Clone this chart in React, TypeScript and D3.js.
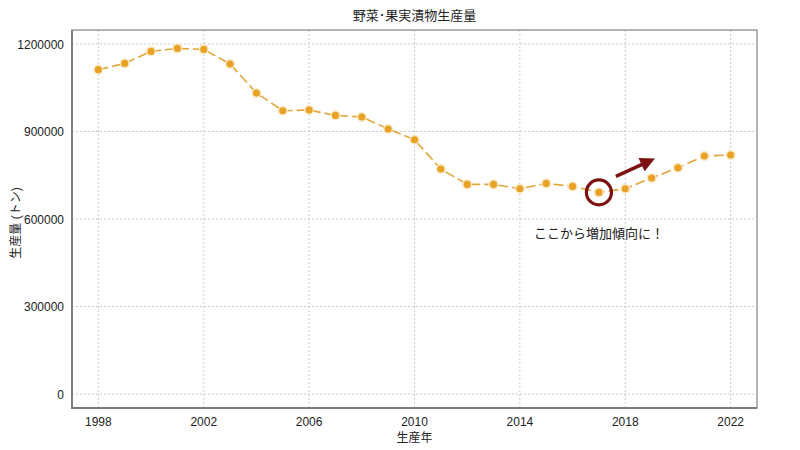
import * as d3 from "d3";
import { useEffect, useRef } from "react";

const years = [
  1998, 1999, 2000, 2001, 2002, 2003, 2004, 2005, 2006, 2007, 2008, 2009, 2010,
  2011, 2012, 2013, 2014, 2015, 2016, 2017, 2018, 2019, 2020, 2021, 2022,
];
const production = [
  1112000, 1133500, 1174600, 1184900, 1181500, 1131400, 1032000, 971300, 973700,
  955200, 949700, 908600, 871900, 771400, 718600, 718600, 703900, 722100, 711800,
  691200, 703900, 740600, 775900, 816000, 819400,
];
const xTicks = [1998, 2002, 2006, 2010, 2014, 2018, 2022];
const yTicks = [0, 300000, 600000, 900000, 1200000];

const title = "野菜･果実漬物生産量";
const xLabel = "生産年";
const yLabel = "生産量 (トン)";
const note = "ここから増加傾向に！";
const highlightYear = 2017;

const FONT = "'Liberation Sans', 'Noto Sans CJK JP', sans-serif";

const App = () => {
  const svgRef = useRef<SVGSVGElement | null>(null);

  useEffect(() => {
    if (!svgRef.current) return;
    const width = 800;
    const height = 450;
    const margin = { top: 30, right: 43, bottom: 42, left: 72 };

    const x = d3
      .scaleLinear()
      .domain([1997, 2023])
      .range([margin.left, width - margin.right]);
    const y = d3
      .scaleLinear()
      .domain([-48000, 1248000])
      .range([height - margin.bottom, margin.top]);

    const svg = d3.select(svgRef.current);
    svg.selectAll("*").remove();

    // grid
    const grid = svg.append("g");
    grid
      .selectAll("line.v")
      .data(xTicks)
      .join("line")
      .attr("x1", (d) => x(d))
      .attr("x2", (d) => x(d))
      .attr("y1", margin.top)
      .attr("y2", height - margin.bottom)
      .attr("stroke", "#bdbdbd")
      .attr("stroke-width", 0.8)
      .attr("stroke-dasharray", "2,2");
    grid
      .selectAll("line.h")
      .data(yTicks)
      .join("line")
      .attr("x1", margin.left)
      .attr("x2", width - margin.right)
      .attr("y1", (d) => y(d))
      .attr("y2", (d) => y(d))
      .attr("stroke", "#bdbdbd")
      .attr("stroke-width", 0.8)
      .attr("stroke-dasharray", "2,2");

    // frame
    svg
      .append("rect")
      .attr("x", margin.left)
      .attr("y", margin.top)
      .attr("width", width - margin.left - margin.right)
      .attr("height", height - margin.top - margin.bottom)
      .attr("fill", "none")
      .attr("stroke", "#9a9a9a")
      .attr("stroke-width", 1.5);
    svg
      .append("path")
      .attr(
        "d",
        `M${margin.left},${margin.top}V${height - margin.bottom}H${width - margin.right}`
      )
      .attr("fill", "none")
      .attr("stroke", "#7a7a7a")
      .attr("stroke-width", 1.8);

    // ticks
    svg
      .append("g")
      .selectAll("text")
      .data(xTicks)
      .join("text")
      .attr("x", (d) => x(d))
      .attr("y", height - margin.bottom + 18)
      .attr("text-anchor", "middle")
      .attr("font-size", 12)
      .attr("font-family", FONT)
      .attr("fill", "#222")
      .text((d) => d);
    svg
      .append("g")
      .selectAll("text")
      .data(yTicks)
      .join("text")
      .attr("x", margin.left - 8)
      .attr("y", (d) => y(d) + 4.5)
      .attr("text-anchor", "end")
      .attr("font-size", 12)
      .attr("font-family", FONT)
      .attr("fill", "#222")
      .text((d) => d);

    // titles
    svg
      .append("text")
      .attr("x", (margin.left + width - margin.right) / 2)
      .attr("y", 20)
      .attr("text-anchor", "middle")
      .attr("font-size", 13)
      .attr("font-family", FONT)
      .attr("fill", "#222")
      .text(title);
    svg
      .append("text")
      .attr("x", (margin.left + width - margin.right) / 2)
      .attr("y", height - 8)
      .attr("text-anchor", "middle")
      .attr("font-size", 12)
      .attr("font-family", FONT)
      .attr("fill", "#222")
      .text(xLabel);
    svg
      .append("text")
      .attr(
        "transform",
        `translate(20,${(margin.top + height - margin.bottom) / 2 + 4}) rotate(-90)`
      )
      .attr("text-anchor", "middle")
      .attr("font-size", 12)
      .attr("font-family", FONT)
      .attr("fill", "#222")
      .text(yLabel);

    // series
    const pts = years.map((yr, i) => ({ yr, v: production[i] }));
    const line = d3
      .line<{ yr: number; v: number }>()
      .x((d) => x(d.yr))
      .y((d) => y(d.v));
    svg
      .append("path")
      .datum(pts)
      .attr("d", line)
      .attr("fill", "none")
      .attr("stroke", "#e0a63a")
      .attr("stroke-width", 1.6)
      .attr("stroke-dasharray", "10,4");
    svg
      .append("g")
      .selectAll("circle")
      .data(pts)
      .join("circle")
      .attr("cx", (d) => x(d.yr))
      .attr("cy", (d) => y(d.v))
      .attr("r", 4.3)
      .attr("fill", "#e8a326")
      .attr("stroke", "#fbe7c0")
      .attr("stroke-width", 1.5);

    // annotation
    const hi = pts.find((d) => d.yr === highlightYear)!;
    const cx = x(hi.yr);
    const cy = y(hi.v);
    svg
      .append("circle")
      .attr("cx", cx)
      .attr("cy", cy)
      .attr("r", 12.5)
      .attr("fill", "none")
      .attr("stroke", "#7b1111")
      .attr("stroke-width", 3.2);

    const defs = svg.append("defs");
    defs
      .append("marker")
      .attr("id", "arrow")
      .attr("viewBox", "0 0 10 10")
      .attr("refX", 7)
      .attr("refY", 5)
      .attr("markerWidth", 4.4)
      .attr("markerHeight", 4.2)
      .attr("orient", "auto")
      .append("path")
      .attr("d", "M0,0L10,5L0,10Z")
      .attr("fill", "#7b1111");
    svg
      .append("line")
      .attr("x1", cx + 17)
      .attr("y1", cy - 16)
      .attr("x2", cx + 52)
      .attr("y2", cy - 32)
      .attr("stroke", "#7b1111")
      .attr("stroke-width", 3.5)
      .attr("marker-end", "url(#arrow)");

    svg
      .append("text")
      .attr("x", cx)
      .attr("y", cy + 46)
      .attr("text-anchor", "middle")
      .attr("font-size", 13)
      .attr("font-family", FONT)
      .attr("fill", "#222")
      .text(note);
  }, []);

  return (
    <svg
      ref={svgRef}
      width={800}
      height={450}
      style={{ display: "block", position: "absolute", left: 0, top: 0, background: "#fff" }}
    ></svg>
  );
};

export default App;
